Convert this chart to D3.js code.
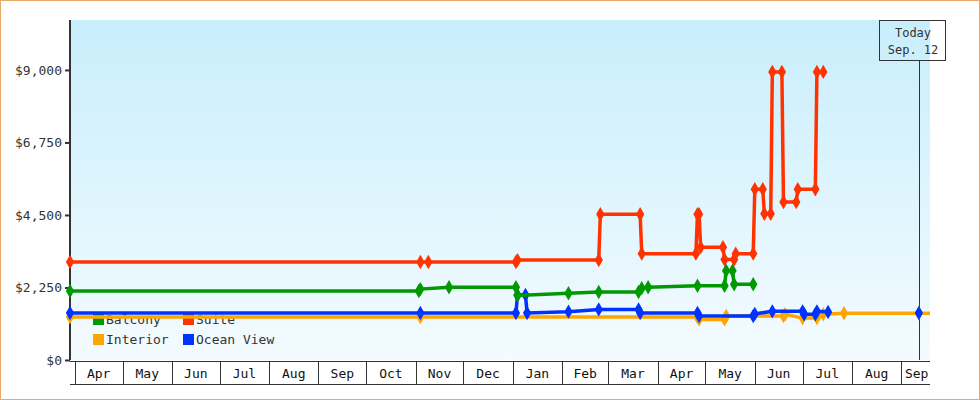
<!DOCTYPE html>
<html><head><meta charset="utf-8">
<script src="https://cdn.jsdelivr.net/npm/d3@7"></script>
<style>body{margin:0;background:#fff}svg{display:block}</style>
</head><body>
<svg id="c" width="980" height="400"></svg>
<script>
const seriesNames = ["Balcony","Suite","Interior","Ocean View"];
const seriesColors = ["#009900","#ff3300","#ffa500","#0033ff"];
const suite = [["2023-03-29",3040],["2023-11-04",3040],["2023-11-09",3040],["2024-01-03",3040],["2024-01-04",3100],["2024-02-24",3100],["2024-02-25",4520],["2024-03-21",4520],["2024-03-22",3300],["2024-04-25",3300],["2024-04-26",4520],["2024-04-27",4520],["2024-04-28",3500],["2024-05-12",3500],["2024-05-13",3120],["2024-05-19",3120],["2024-05-20",3300],["2024-05-31",3300],["2024-06-01",5300],["2024-06-06",5300],["2024-06-07",4540],["2024-06-11",4540],["2024-06-12",8940],["2024-06-18",8940],["2024-06-19",4900],["2024-06-27",4900],["2024-06-28",5300],["2024-07-09",5300],["2024-07-10",8940],["2024-07-14",8940]];
const balcony = [["2023-03-29",2140],["2023-11-03",2140],["2023-11-04",2200],["2023-11-22",2255],["2024-01-03",2255],["2024-01-04",2000],["2024-02-05",2070],["2024-02-24",2110],["2024-03-20",2110],["2024-03-22",2230],["2024-03-26",2255],["2024-04-26",2305],["2024-05-13",2305],["2024-05-14",2770],["2024-05-18",2770],["2024-05-19",2350],["2024-05-31",2350]];
const oceanView = [["2023-03-29",1460],["2023-11-04",1460],["2024-01-03",1460],["2024-01-04",2020],["2024-01-09",2020],["2024-01-10",1460],["2024-02-05",1500],["2024-02-24",1570],["2024-03-20",1570],["2024-03-21",1460],["2024-04-26",1460],["2024-04-27",1365],["2024-05-31",1365],["2024-06-01",1430],["2024-06-12",1510],["2024-07-01",1510],["2024-07-02",1420],["2024-07-09",1420],["2024-07-10",1510],["2024-07-17",1490]];
const interior = [["2023-03-29",1335],["2023-11-04",1335],["2024-04-26",1335],["2024-04-27",1260],["2024-05-13",1260],["2024-05-14",1365],["2024-06-19",1365],["2024-06-20",1420],["2024-07-01",1300],["2024-07-10",1300],["2024-07-14",1420],["2024-07-27",1450],["2024-09-12",1450],["2024-09-19",1450]];
const todayPoints = [["2024-09-12",1460]];
const yTicks = [0,2250,4500,6750,9000];
const monthLabels = ["Apr","May","Jun","Jul","Aug","Sep","Oct","Nov","Dec","Jan","Feb","Mar","Apr","May","Jun","Jul","Aug","Sep"];

const P = d3.timeParse("%Y-%m-%d");
const svg = d3.select("#c");
const L=70,R=930,T=20,B=360;
const x = d3.scaleTime().domain([P("2023-03-29"),P("2024-09-19")]).range([L,R]);
const y = d3.scaleLinear().domain([0,10550]).range([B,T]);

svg.append("rect").attr("x",0.5).attr("y",0.5).attr("width",979).attr("height",399).attr("fill","#fff").attr("stroke","#e8aa66");
const g = svg.append("defs").append("linearGradient").attr("id","bg").attr("x1",0).attr("x2",0).attr("y1",0).attr("y2",1);
g.append("stop").attr("offset",0).attr("stop-color","#c8eefc");
g.append("stop").attr("offset",1).attr("stop-color","#f4fbff");
svg.append("rect").attr("x",L).attr("y",T).attr("width",R-L).attr("height",B-T).attr("fill","url(#bg)");

const font="DejaVu Sans Mono";
// legend
const leg=svg.append("g").attr("font-family",font).attr("font-size",13).attr("fill","#333");
seriesNames.forEach((n,i)=>{
  const lx=93+(i%2)*90, ly=314+Math.floor(i/2)*20;
  leg.append("rect").attr("x",lx).attr("y",ly).attr("width",11).attr("height",11).attr("fill",seriesColors[i]);
  leg.append("text").attr("x",lx+13).attr("y",ly+10).text(n);
});

// y axis
const ya=svg.append("g").attr("transform",`translate(${L},0)`).call(d3.axisLeft(y).tickValues(yTicks).tickSize(5).tickFormat(d=>"$"+d3.format(",")(d)));
ya.selectAll("text").attr("font-family",font).attr("font-size",13).attr("fill","#333");
ya.select(".domain").attr("d",`M0,${T}V${B}`).attr("stroke","#333").attr("stroke-width",2);
ya.selectAll(".tick line").attr("stroke","#333").attr("stroke-width",2);

// x month bands
const months=d3.timeMonth.range(P("2023-04-01"),P("2024-09-02"));
const xa=svg.append("g");
xa.append("line").attr("x1",L).attr("x2",R).attr("y1",384.5).attr("y2",384.5).attr("stroke","#333");
xa.append("line").attr("x1",L).attr("x2",R).attr("y1",361.5).attr("y2",361.5).attr("stroke","#333");
months.forEach((m,i)=>{
  const x0=Math.round(x(m))+0.5;
  xa.append("line").attr("x1",x0).attr("x2",x0).attr("y1",361).attr("y2",384).attr("stroke","#333");
  const x1=i<months.length-1?x(months[i+1]):R;
  xa.append("text").attr("x",(x(m)+x1)/2+ (i==months.length-1?1:0)).attr("y",378).attr("text-anchor","middle")
    .attr("font-family",font).attr("font-size",13).attr("fill","#111").text(monthLabels[i]);
});

// today marker
const tx=Math.round(x(P("2024-09-12")))+0.5;
svg.append("line").attr("x1",tx).attr("x2",tx).attr("y1",60).attr("y2",B).attr("stroke","#333");
svg.append("rect").attr("x",879.5).attr("y",20.5).attr("width",66).attr("height",40).attr("fill","none").attr("stroke","#333");
svg.append("text").attr("x",913).attr("y",37).attr("text-anchor","middle").attr("font-family",font).attr("font-size",12).attr("fill","#333").text("Today");
svg.append("text").attr("x",913).attr("y",54).attr("text-anchor","middle").attr("font-family",font).attr("font-size",12).attr("fill","#333").text("Sep. 12");

const line=d3.line().x(d=>x(P(d[0]))).y(d=>y(d[1]));
const sym=d3.symbol().type(d3.symbolDiamond).size(60);
function draw(data,color,markers){
  svg.append("path").datum(data).attr("d",line).attr("fill","none").attr("stroke",color).attr("stroke-width",3.5);
  svg.selectAll(null).data(markers).enter().append("path").attr("d",sym)
    .attr("transform",d=>`translate(${x(P(d[0]))},${y(d[1])})`).attr("fill",color);
}
draw(interior,seriesColors[2],interior.slice(0,-1));
draw(oceanView,seriesColors[3],oceanView.concat(todayPoints));
draw(balcony,seriesColors[0],balcony);
draw(suite,seriesColors[1],suite);
</script>
</body></html>
